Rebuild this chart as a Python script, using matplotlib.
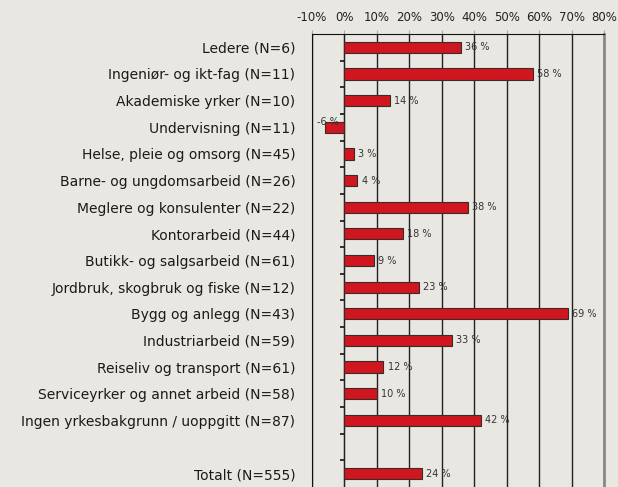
import matplotlib.pyplot as plt

categories = [
    "Ledere (N=6)",
    "Ingeniør- og ikt-fag (N=11)",
    "Akademiske yrker (N=10)",
    "Undervisning (N=11)",
    "Helse, pleie og omsorg (N=45)",
    "Barne- og ungdomsarbeid (N=26)",
    "Meglere og konsulenter (N=22)",
    "Kontorarbeid (N=44)",
    "Butikk- og salgsarbeid (N=61)",
    "Jordbruk, skogbruk og fiske (N=12)",
    "Bygg og anlegg (N=43)",
    "Industriarbeid (N=59)",
    "Reiseliv og transport (N=61)",
    "Serviceyrker og annet arbeid (N=58)",
    "Ingen yrkesbakgrunn / uoppgitt (N=87)",
    "",
    "Totalt (N=555)",
]
values = [36, 58, 14, -6, 3, 4, 38, 18, 9, 23, 69, 33, 12, 10, 42, None, 24]
xticks = [-10, 0, 10, 20, 30, 40, 50, 60, 70, 80]

bg = "#e8e7e2"
fig = plt.figure(figsize=(6.18, 4.87), dpi=100, facecolor=bg)
ax = fig.add_axes([312 / 618, 0, 292 / 618, 453 / 487], facecolor=bg)

pos = list(range(len(categories)))
for i, v in zip(pos, values):
    if v is None:
        continue
    ax.barh(i, v, height=0.42, color="#d0161e", edgecolor="#3b2b2b",
            linewidth=0.8, zorder=3)
    if v >= 0:
        ax.annotate(f"{v} %", (v, i), xytext=(3, 0), textcoords="offset points",
                    ha="left", va="center", fontsize=7, color="#333333")
    else:
        ax.annotate(f"{v} %", (0, i), xytext=(-4, 0), textcoords="offset points",
                    ha="right", va="bottom", fontsize=7, color="#333333")

ax.set_xlim(-10, 80)
ax.set_ylim(len(categories) - 0.5, -0.5)
ax.set_yticks(pos)
ax.set_yticklabels(categories, fontsize=10, color="#1a1a1a")
ax.tick_params(axis="y", length=0, pad=12)

ax.xaxis.tick_top()
ax.set_xticks(xticks)
ax.set_xticklabels([f"{t}%" for t in xticks], fontsize=8.5, color="#222222")
ax.tick_params(axis="x", length=3, color="#aaaaaa", pad=4)
ax.grid(axis="x", color="#222222", linewidth=1, zorder=1)

ax.spines["bottom"].set_visible(False)
ax.spines["left"].set_color("#111111")
ax.spines["top"].set_color("#111111")
ax.spines["right"].set_color("#888888")
ax.spines["right"].set_linewidth(2)

# zero line with ticks between categories
zero = ax.secondary_yaxis(10 / 90)
zero.set_yticks([p + 0.5 for p in pos[:-1]])
zero.set_yticklabels([])
zero.tick_params(length=3, width=1.2, color="#111111", direction="out")
zero.spines["left"].set_color("#111111")

fig.savefig("out.png", dpi=100, facecolor=bg)
